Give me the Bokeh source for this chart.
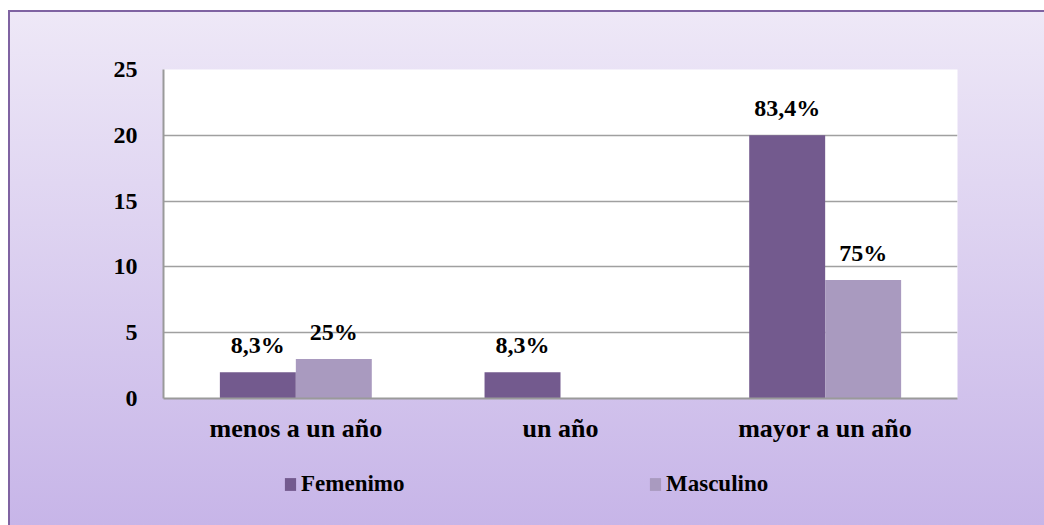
from bokeh.plotting import figure
from bokeh.layouts import column
from bokeh.models import ColumnDataSource, FactorRange, Range1d, Legend, LegendItem
from bokeh.transform import dodge
from bokeh.core.properties import value
from bokeh.embed import file_html
from bokeh.resources import INLINE

categories = ["menos a un año", "un año", "mayor a un año"]
femenino = [2, 2, 20]
masculino = [3, 0, 9]
fem_labels = ["8,3%", "8,3%", "83,4%"]
masc_labels = ["25%", "", "75%"]
series_names = ["Femenimo", "Masculino"]
yticks = [0, 5, 10, 15, 20, 25]

FONT = value("Liberation Serif")
FEM_COLOR = "#735A8E"
MASC_COLOR = "#A99ABF"

src = ColumnDataSource(dict(cat=categories, fem=femenino, masc=masculino,
                            fem_lbl=fem_labels, masc_lbl=masc_labels))

p = figure(x_range=FactorRange(*categories, range_padding=0),
           y_range=Range1d(0, 25),
           width=1034, height=440,
           min_border_left=153, min_border_right=87,
           min_border_top=57, min_border_bottom=54,
           output_backend="svg", toolbar_location=None,
           background_fill_color="white", border_fill_color=None,
           outline_line_color=None)

bw = 0.287
r1 = p.vbar(x=dodge('cat', -bw / 2, range=p.x_range), top='fem', width=bw,
            source=src, fill_color=FEM_COLOR, line_alpha=0)
r2 = p.vbar(x=dodge('cat', bw / 2, range=p.x_range), top='masc', width=bw,
            source=src, fill_color=MASC_COLOR, line_alpha=0)

for off, col, lbl in [(-bw / 2, 'fem', 'fem_lbl'), (bw / 2, 'masc', 'masc_lbl')]:
    p.text(x=dodge('cat', off, range=p.x_range), y=col, text=lbl, source=src,
           text_align="center", text_baseline="alphabetic", y_offset=-27,
           text_font=FONT, text_font_style="bold", text_font_size="24px",
           text_color="black")

p.xgrid.visible = False
p.ygrid.grid_line_color = "#A0A0A0"
p.ygrid.grid_line_width = 1.5

p.yaxis.ticker = yticks
p.yaxis.minor_tick_line_color = None
p.yaxis.major_tick_line_color = None
p.xaxis.major_tick_line_color = None
for ax in (p.xaxis, p.yaxis):
    ax.axis_line_color = "#9A9A9A"
    ax.axis_line_width = 2
    ax.major_label_text_font = "Liberation Serif"
    ax.major_label_text_font_style = "bold"
    ax.major_label_text_color = "black"
p.yaxis.major_label_text_font_size = "24px"
p.yaxis.major_label_standoff = 20
p.xaxis.major_label_text_font_size = "26px"
p.xaxis.major_label_standoff = 9

# legend strip below the chart (its frame is aligned with the chart's frame)
p2 = figure(x_range=Range1d(0, 1), y_range=Range1d(0, 1),
            width=1034, height=73, min_border=0,
            x_axis_type=None, y_axis_type=None,
            output_backend="svg", toolbar_location=None,
            background_fill_color=None, border_fill_color=None,
            outline_line_color=None)
p2.grid.visible = False
# zero-height proxies, only used for the legend swatches
lf = p2.vbar(x=[0], top=[0], bottom=[0], width=0, fill_color=FEM_COLOR, line_alpha=0)
lm = p2.vbar(x=[0], top=[0], bottom=[0], width=0, fill_color=MASC_COLOR, line_alpha=0)

legend = Legend(items=[LegendItem(label=series_names[0], renderers=[lf]),
                       LegendItem(label=series_names[1], renderers=[lm])],
                orientation="horizontal", location=(120, 28),
                padding=0, margin=0, spacing=10,
                glyph_width=14, glyph_height=16, label_standoff=4,
                label_width=337, label_height=20,
                label_text_font="Liberation Serif", label_text_font_style="bold",
                label_text_font_size="23px", label_text_color="black",
                border_line_alpha=0, background_fill_alpha=0)
p2.add_layout(legend, "center")

layout = column(p, p2, spacing=0,
                styles={"background": "linear-gradient(to bottom, #EEE8F7, #C7B5E8)",
                        "border-top": "2px solid #7F63A2",
                        "border-left": "2px solid #7F63A2",
                        "margin-left": "8px", "margin-top": "10px"})

open("out.html", "w").write(file_html(layout, INLINE))
